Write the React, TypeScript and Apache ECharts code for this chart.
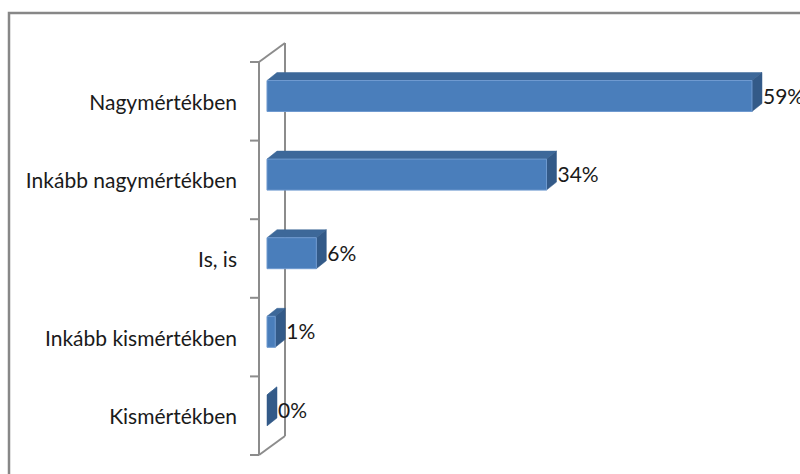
import React, { useEffect, useRef } from "react";
import * as echarts from "echarts";

const categories = [
  "Nagymértékben",
  "Inkább nagymértékben",
  "Is, is",
  "Inkább kismértékben",
  "Kismértékben",
];
const values = [59, 34, 6, 1, 0];

const FONT = "Lato";

export default function App() {
  const ref = useRef<HTMLDivElement>(null);
  useEffect(() => {
    document.body.style.margin = "0";
    if (!ref.current) return;
    const chart = echarts.init(ref.current, undefined, { renderer: "svg" });
    const DX = 10;
    const DY = -8;
    const option: any = {
      animation: false,
      backgroundColor: "#ffffff",
      grid: { left: 267, right: 39.8, top: 62, bottom: 19, containLabel: false },
      xAxis: { type: "value", min: 0, max: 60, show: false },
      yAxis: {
        type: "category",
        data: categories,
        inverse: true,
        axisLine: { show: false },
        axisTick: { show: false },
        splitLine: { show: false },
        axisLabel: {
          margin: 30,
          fontFamily: FONT,
          fontSize: 21,
          color: "#1a1a1a",
        },
      },
      graphic: [
        {
          type: "rect",
          shape: { x: 9, y: 13, width: 820, height: 500 },
          style: { fill: "none", stroke: "#878787", lineWidth: 2.5 },
          silent: true,
        },
      ],
      series: [
        {
          type: "custom",
          name: "wall",
          data: [0],
          z: 1,
          renderItem: (params: any, api: any) => {
            const cs = params.coordSys;
            const fx = cs.x - 8;
            const bx = cs.x + 18;
            const top = cs.y;
            const bot = cs.y + cs.height;
            const n = categories.length;
            const bh = cs.height / n;
            const st = { stroke: "#8c8c8c", lineWidth: 2, fill: "none" };
            const children: any[] = [
              { type: "line", shape: { x1: fx, y1: top, x2: fx, y2: bot }, style: st },
              { type: "line", shape: { x1: bx, y1: top - 19, x2: bx, y2: bot - 19 }, style: st },
              { type: "line", shape: { x1: fx, y1: top, x2: bx, y2: top - 19 }, style: st },
              { type: "line", shape: { x1: fx, y1: bot, x2: bx, y2: bot - 19 }, style: st },
            ];
            for (let i = 0; i <= n; i++) {
              const y = top + i * bh;
              children.push({ type: "line", shape: { x1: fx - 9, y1: y, x2: fx, y2: y }, style: st });
            }
            return { type: "group", children };
          },
        },
        {
          type: "custom",
          name: "bars",
          data: values.map((v, i) => [v, i]),
          z: 2,
          renderItem: (params: any, api: any) => {
            const v = api.value(0);
            const idx = api.value(1);
            const s = api.coord([0, idx]);
            const e = api.coord([v, idx]);
            const bh = api.size([0, 1])[1];
            const y0 = s[1] - bh / 2 + 18.5;
            const h = 31;
            const x0 = s[0];
            const x1 = e[0];
            const children: any[] = [];
            children.push({
              type: "polygon",
              shape: { points: [[x0, y0], [x0 + DX, y0 + DY], [x1 + DX, y0 + DY], [x1, y0]] },
              style: { fill: "#3d6899", stroke: "#3d6899", lineWidth: 0.5 },
            });
            children.push({
              type: "polygon",
              shape: { points: [[x1, y0], [x1 + DX, y0 + DY], [x1 + DX, y0 + h + DY], [x1, y0 + h]] },
              style: { fill: "#335a88", stroke: "#335a88", lineWidth: 0.5 },
            });
            if (x1 - x0 > 0.5) {
              children.push({
                type: "rect",
                shape: { x: x0, y: y0, width: x1 - x0, height: h },
                style: { fill: "#4a7ebb", stroke: "#6f9ad0", lineWidth: 1 },
              });
            }
            children.push({
              type: "text",
              style: {
                x: x1 + DX + 1,
                y: y0 + h / 2 - 1,
                text: v + "%",
                fill: "#1a1a1a",
                font: `21px ${FONT}`,
                textVerticalAlign: "middle",
                verticalAlign: "middle",
              },
            });
            return { type: "group", children };
          },
        },
      ],
    };
    chart.setOption(option);
    return () => chart.dispose();
  }, []);
  return (
    <div
      ref={ref}
      style={{ position: "absolute", left: 0, top: 0, width: 800, height: 474 }}
    />
  );
}
